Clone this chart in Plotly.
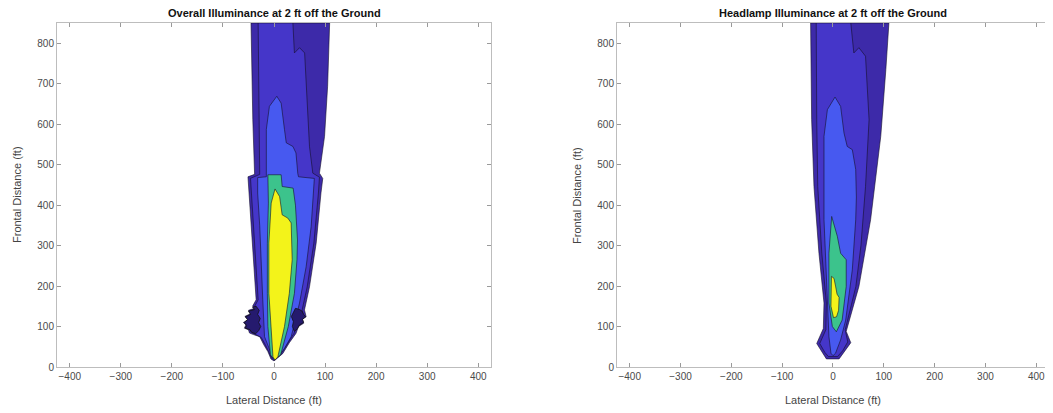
import plotly.graph_objects as go

# ---------------- data ----------------
titles = ["Overall Illuminance at 2 ft off the Ground",
          "Headlamp Illuminance at 2 ft off the Ground"]
x_label = "Lateral Distance (ft)"
y_label = "Frontal Distance (ft)"
x_ticks = [-400, -300, -200, -100, 0, 100, 200, 300, 400]
y_ticks = [0, 100, 200, 300, 400, 500, 600, 700, 800]

level_colors = ["#3d2aa9", "#4536c9", "#4759f0", "#3cc38c", "#f3f31a"]
cluster_color = "#251a6e"

# Overall illuminance: filled contour regions (x, y in ft)
overall_l1_x = [-45, 109, 105, 99, 89, 95.5, 92, 82.6, 69.5, 59.7, 63, 55, 58, 48, 43, 30, 17, 6, 0,
                -6, -12, -20, -28, -40, -48, -50, -58, -55, -60, -50, -57, -45, -50, -38, -42, -35,
                -38, -44.6, -51, -38, -41.5, -45]
overall_l1_y = [850, 850, 694, 570, 479, 466, 430, 306, 198, 141, 124, 118, 108, 100, 83, 60, 33, 20, 15,
                20, 38, 55, 75, 80, 84, 92, 96, 104, 110, 118, 125, 132, 140, 145, 150, 166,
                223, 347, 470, 476, 611, 850]
overall_l2_x = [-31, 37, 40, 50, 60, 63, 66, 69.5, 76, 89, 87, 78, 65, 55, 57, 50, 53, 44, 39, 27, 15, 5, 0,
                -5, -10, -17, -25, -36, -44, -47, -53, -50, -54, -46, -50, -41, -44, -34, -37, -31,
                -34, -40, -46, -28, -29, -31]
overall_l2_y = [850, 850, 776, 789, 776, 694, 611, 545, 479, 469, 430, 306, 198, 141, 124, 117, 107, 98, 83, 58, 36, 24, 20,
                24, 38, 55, 73, 80, 86, 93, 100, 106, 112, 118, 125, 132, 139, 146, 152, 166,
                223, 347, 466, 476, 611, 850]
overall_l3_x = [5.5, 14, 20.5, 24, 37, 43, 46.6, 48, 79, 76, 72.8, 63, 50, 33.6, 20, 11, 2,
                -5.5, -18.6, -22, -25, -28, -32, -32, -15, -15, -9, 5.5]
overall_l3_y = [669, 652, 587, 554, 545, 529, 478, 470, 466, 400, 347, 248, 158, 75, 45, 29, 21,
                33, 75, 166, 265, 350, 430, 468, 470, 587, 644, 669]
overall_l4_x = [-12, 14, 16, 37.5, 42, 46, 45, 40, 28, 13, 1, -7, -12, -13, -13, -11, -12]
overall_l4_y = [475, 475, 446, 442, 400, 314, 265, 182, 100, 30, 17, 30, 100, 182, 306, 405, 475]
overall_l5_x = [2, 11, 16, 27, 33.6, 35.6, 30, 20.5, 7.5, 2, -2, -5.5, -10, -10, -5.5, 2]
overall_l5_y = [440, 421, 376, 368, 356, 265, 182, 100, 25, 17, 25, 100, 182, 306, 405, 440]
overall_cluster_left_x = [-35, -42, -38, -50, -46, -56, -52, -58, -54, -56, -47, -44, -36, -30, -26, -30, -27, -32, -29, -35]
overall_cluster_left_y = [150, 148, 142, 138, 130, 124, 117, 110, 103, 96, 92, 86, 82, 90, 100, 110, 120, 130, 140, 150]
overall_cluster_right_x = [42, 50, 55, 58, 62, 56, 58, 50, 46, 40, 36, 38, 34, 38, 42]
overall_cluster_right_y = [145, 142, 138, 130, 124, 118, 110, 104, 95, 88, 100, 112, 125, 135, 145]

# Headlamp illuminance: filled contour regions (x, y in ft)
headlamp_l1_x = [-44, 110, 104, 94, 74, 51, 26, 35, 12, -13, -32, -19, -17.7, -27.6, -37.4, -42, -44]
headlamp_l1_y = [850, 850, 735, 570, 364, 199, 88, 60, 20, 20, 58, 95, 158, 281, 446, 611, 850]
headlamp_l2_x = [-33, 35, 41, 51, 64, 71, 64, 55, 45, 24, 29, 19, 9, -9, -16, -26, -14, -13, -22, -30, -32, -33]
headlamp_l2_y = [850, 850, 776, 789, 768, 611, 446, 300, 199, 92, 62, 40, 26, 26, 36, 58, 92, 158, 281, 446, 611, 850]
headlamp_l3_x = [4, 15, 21.7, 28, 38, 44.7, 46, 44.7, 38, 25, 15, 5, 0, -4, -8, -11, -16, -17.7, -17.7, -11, 4]
headlamp_l3_y = [667, 644, 578, 545, 537, 488, 420, 364, 240, 116, 67, 34, 28, 34, 75, 158, 280, 364, 570, 636, 667]
headlamp_l4_x = [-2.6, 8.5, 15, 26, 26, 18, 6.6, -1.3, -8, -8, -2.6]
headlamp_l4_y = [372, 323, 281, 265, 199, 116, 87, 100, 158, 281, 372]
headlamp_l5_x = [-3, 2, 5, 8, 12, 11, 7, 1, -4, -4, -3]
headlamp_l5_y = [224, 219, 200, 180, 172, 140, 124, 122, 150, 200, 224]

x_range = [-425, 425]
y_range = [0, 850]

# ---------------- figure ----------------
FONT = "Liberation Sans, Arial, Helvetica, sans-serif"
fig = go.Figure()

panels = [
    dict(xa="x", ya="y",
         levels=[(overall_l1_x, overall_l1_y), (overall_l2_x, overall_l2_y), (overall_l3_x, overall_l3_y),
                 (overall_l4_x, overall_l4_y), (overall_l5_x, overall_l5_y)],
         clusters=[(overall_cluster_left_x, overall_cluster_left_y),
                   (overall_cluster_right_x, overall_cluster_right_y)]),
    dict(xa="x2", ya="y2",
         levels=[(headlamp_l1_x, headlamp_l1_y), (headlamp_l2_x, headlamp_l2_y), (headlamp_l3_x, headlamp_l3_y),
                 (headlamp_l4_x, headlamp_l4_y), (headlamp_l5_x, headlamp_l5_y)],
         clusters=[]),
]

for p in panels:
    for i, (xs, ys) in enumerate(p["levels"]):
        fig.add_trace(go.Scatter(x=xs, y=ys, xaxis=p["xa"], yaxis=p["ya"], mode="lines",
                                 fill="toself", fillcolor=level_colors[i],
                                 line=dict(color="rgba(20,15,40,0.85)", width=0.7),
                                 hoverinfo="skip", showlegend=False))
    for xs, ys in p["clusters"]:
        fig.add_trace(go.Scatter(x=xs, y=ys, xaxis=p["xa"], yaxis=p["ya"], mode="lines",
                                 fill="toself", fillcolor=cluster_color,
                                 line=dict(color="#111111", width=0.8),
                                 hoverinfo="skip", showlegend=False))

axis_common = dict(showgrid=False, zeroline=False, showline=True, linecolor="#bdbdbd", linewidth=1,
                   mirror="allticks", ticks="inside", ticklen=4, tickcolor="#9a9a9a", tickwidth=1,
                   automargin=False,
                   tickfont=dict(family=FONT, size=10, color="#4a4a4a"), fixedrange=True)

# the page body adds an 8 px offset, so the figure is 8 px smaller and margins shifted
fig.update_layout(
    width=1045, height=405,
    margin=dict(l=49, r=4, t=15, b=46, autoexpand=False),
    paper_bgcolor="white", plot_bgcolor="white",
    font=dict(family=FONT),
    xaxis=dict(domain=[0, 0.4375], range=x_range, tickvals=x_ticks, anchor="y", **axis_common),
    yaxis=dict(domain=[0, 1], range=y_range, tickvals=y_ticks, anchor="x", **axis_common),
    xaxis2=dict(domain=[0.5645, 1], range=x_range, tickvals=x_ticks, anchor="y2", **axis_common),
    yaxis2=dict(domain=[0, 1], range=y_range, tickvals=y_ticks, anchor="x2", **axis_common),
)

centers = [0.21875, 0.78225]
starts = [0.0, 0.5645]
for k in range(2):
    fig.add_annotation(text="<b>" + titles[k] + "</b>", xref="paper", yref="paper",
                       x=centers[k], y=1, xanchor="center", yanchor="middle", yshift=10, showarrow=False,
                       font=dict(family=FONT, size=11, color="#111111"))
    fig.add_annotation(text=x_label, xref="paper", yref="paper",
                       x=centers[k], y=0, xanchor="center", yanchor="middle", yshift=-33, showarrow=False,
                       font=dict(family=FONT, size=11, color="#444444"))
    fig.add_annotation(text=y_label, xref="paper", yref="paper", textangle=-90,
                       x=starts[k], y=0.5, xanchor="center", yanchor="middle", xshift=-40, showarrow=False,
                       font=dict(family=FONT, size=11, color="#444444"))

fig.write_html("out.html")
